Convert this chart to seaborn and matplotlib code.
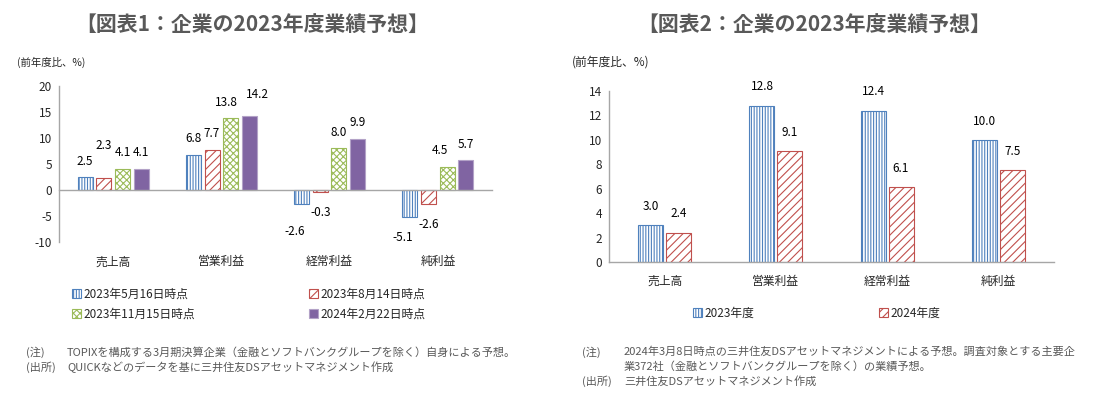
# 企業の2023年度業績予想 (two bar charts side by side)
import pandas as pd
import seaborn as sns
import matplotlib.pyplot as plt
from matplotlib.ticker import FixedLocator

# ---- data ----
items = ["売上高", "営業利益", "経常利益", "純利益"]

dates = ["2023年5月16日時点", "2023年8月14日時点", "2023年11月15日時点", "2024年2月22日時点"]
val_0516 = [2.5, 6.8, -2.6, -5.1]
val_0814 = [2.3, 7.7, -0.3, -2.6]
val_1115 = [4.1, 13.8, 8.0, 4.5]
val_0222 = [4.1, 14.2, 9.9, 5.7]

years = ["2023年度", "2024年度"]
val_2023 = [3.0, 12.8, 12.4, 10.0]
val_2024 = [2.4, 9.1, 6.1, 7.5]

left_ticks = [-10, -5, 0, 5, 10, 15, 20]
right_ticks = [0, 2, 4, 6, 8, 10, 12, 14]

title_1 = "【図表1：企業の2023年度業績予想】"
title_2 = "【図表2：企業の2023年度業績予想】"
unit_label = "(前年度比、%)"

notes_1 = [("(注)", "TOPIXを構成する3月期決算企業（金融とソフトバンクグループを除く）自身による予想。"),
           ("(出所)", "QUICKなどのデータを基に三井住友DSアセットマネジメント作成")]
notes_2 = [("(注)", "2024年3月8日時点の三井住友DSアセットマネジメントによる予想。調査対象とする主要企"),
           ("", "業372社（金融とソフトバンクグループを除く）の業績予想。"),
           ("(出所)", "三井住友DSアセットマネジメント作成")]

# hand-moved data labels in the original (series index, item index) -> (dx, dy) in points
nudges_1 = {(1, 0): (0, 12), (2, 1): (-3, 0), (3, 1): (6, 4),
            (0, 2): (-5, -5), (0, 3): (-5, 0), (2, 3): (-5, 0)}

# ---- long tables for seaborn ----
df1 = pd.DataFrame({
    "item": items * 4,
    "date": [d for d in dates for _ in items],
    "value": val_0516 + val_0814 + val_1115 + val_0222,
})
df2 = pd.DataFrame({
    "item": items * 2,
    "year": [y for y in years for _ in items],
    "value": val_2023 + val_2024,
})

# ---- style ----
sns.set_style("white")
plt.rcParams["font.family"] = ["Noto Sans CJK JP", "DejaVu Sans"]
plt.rcParams["hatch.linewidth"] = 0.8
plt.rcParams["axes.unicode_minus"] = False

BLUE, RED, GREEN, PURPLE = "#4F81BD", "#C0504D", "#9BBB59", "#8064A2"
AXIS = "#A6A6A6"
GREY_TXT = "#595959"

styles1 = [(BLUE, "||||||"), (RED, "////"), (GREEN, "xxxxx"), (PURPLE, None)]
styles2 = [(BLUE, "||||||"), (RED, "////")]

W, H = 1100, 397
fig = plt.figure(figsize=(11, 3.97), dpi=100)


def px_axes(x0, y_top, x1, y_bot):
    return fig.add_axes([x0 / W, 1 - y_bot / H, (x1 - x0) / W, (y_bot - y_top) / H])


def style_bars(ax, styles):
    for cont, (col, hatch) in zip(ax.containers, styles):
        for p in cont:
            if hatch is None:
                p.set_facecolor(col)
                p.set_edgecolor("#B3A2C7")
            else:
                p.set_facecolor("white")
                p.set_edgecolor(col)
                p.set_hatch(hatch)
            p.set_linewidth(0.8)


def label_bars(ax, pos_off, neg_off, nudges=None):
    nudges = nudges or {}
    for si, cont in enumerate(ax.containers):
        for ii, p in enumerate(cont):
            val = p.get_y() + p.get_height() if p.get_y() == 0 else p.get_y()
            dx, dy = nudges.get((si, ii), (0, 0))
            off = pos_off if val >= 0 else -neg_off
            ax.annotate(f"{val:.1f}", xy=(p.get_x() + p.get_width() / 2, val),
                        xytext=(dx, off + dy), textcoords="offset points",
                        ha="center", va="center", fontsize=8.5, color="black")


def common_axes(ax, n):
    for s in ["top", "right"]:
        ax.spines[s].set_visible(False)
    for s in ["left", "bottom"]:
        ax.spines[s].set_color(AXIS)
        ax.spines[s].set_linewidth(1.0)
    ax.set_xlim(-0.5, n - 0.5)
    ax.xaxis.set_minor_locator(FixedLocator([i + 0.5 for i in range(n)]))
    ax.tick_params(axis="x", which="minor", direction="in", length=4, color=AXIS, width=1)
    ax.tick_params(axis="x", which="major", length=0, labelsize=8.5)
    ax.tick_params(axis="y", direction="in", length=4, color=AXIS, width=1,
                   labelsize=8.5, pad=5)
    ax.set_xlabel("")
    ax.set_ylabel("")


# ---- chart 1 ----
ax1 = px_axes(59, 86, 492, 242)
sns.barplot(data=df1, x="item", y="value", hue="date", hue_order=dates,
            order=items, width=0.69, gap=0.2, legend=False, ax=ax1,
            palette=[c for c, _ in styles1], errorbar=None)
style_bars(ax1, styles1)
common_axes(ax1, len(items))
ax1.set_ylim(left_ticks[0], left_ticks[-1])
ax1.set_yticks(left_ticks)
ax1.spines["bottom"].set_position(("data", 0))
ax1.tick_params(axis="x", which="major", pad=47)
label_bars(ax1, 11.5, 15, nudges_1)

# ---- chart 2 ----
ax2 = px_axes(609, 91, 1054, 262)
sns.barplot(data=df2, x="item", y="value", hue="year", hue_order=years,
            order=items, width=0.5, gap=0.1, legend=False, ax=ax2,
            palette=[c for c, _ in styles2], errorbar=None)
style_bars(ax2, styles2)
common_axes(ax2, len(items))
ax2.set_ylim(right_ticks[0], right_ticks[-1])
ax2.set_yticks(right_ticks)
ax2.tick_params(axis="x", which="major", pad=9)
label_bars(ax2, 13.5, 13.5)

# ---- titles and unit labels ----
fig.text(252 / W, 1 - 24 / H, title_1, ha="center", va="center",
         fontsize=15, fontweight="bold", color=GREY_TXT)
fig.text(814 / W, 1 - 24 / H, title_2, ha="center", va="center",
         fontsize=15, fontweight="bold", color=GREY_TXT)
fig.text(17 / W, 1 - 62 / H, unit_label, ha="left", va="center", fontsize=7.5)
fig.text(572 / W, 1 - 62 / H, unit_label, ha="left", va="center", fontsize=8.5)

# ---- legends ----
c1 = ax1.containers
fig.legend([c1[0], c1[2], c1[1], c1[3]], [dates[0], dates[2], dates[1], dates[3]],
           ncol=2, loc="upper left", bbox_to_anchor=(66 / W, 1 - 282 / H),
           frameon=False, fontsize=8.5, handlelength=0.8, handleheight=0.8,
           handletextpad=0.2, columnspacing=9.6, labelspacing=0.55, borderpad=0)
c2 = ax2.containers
fig.legend([c2[0], c2[1]], years, ncol=2, loc="upper left",
           bbox_to_anchor=(687 / W, 1 - 301 / H), frameon=False, fontsize=8.5,
           handlelength=0.8, handleheight=0.8, handletextpad=0.2,
           columnspacing=10.5, borderpad=0)

# ---- notes ----
for i, (tag, txt) in enumerate(notes_1):
    y = 1 - (352 + i * 15) / H
    fig.text(26 / W, y, tag, ha="left", va="center", fontsize=8, color=GREY_TXT)
    fig.text(67 / W, y, txt, ha="left", va="center", fontsize=8, color=GREY_TXT)
for i, (tag, txt) in enumerate(notes_2):
    y = 1 - (352 + i * 14.5) / H
    fig.text(582 / W, y, tag, ha="left", va="center", fontsize=8, color=GREY_TXT)
    fig.text(624 / W, y, txt, ha="left", va="center", fontsize=8, color=GREY_TXT)

fig.savefig("out.png", dpi=100)
